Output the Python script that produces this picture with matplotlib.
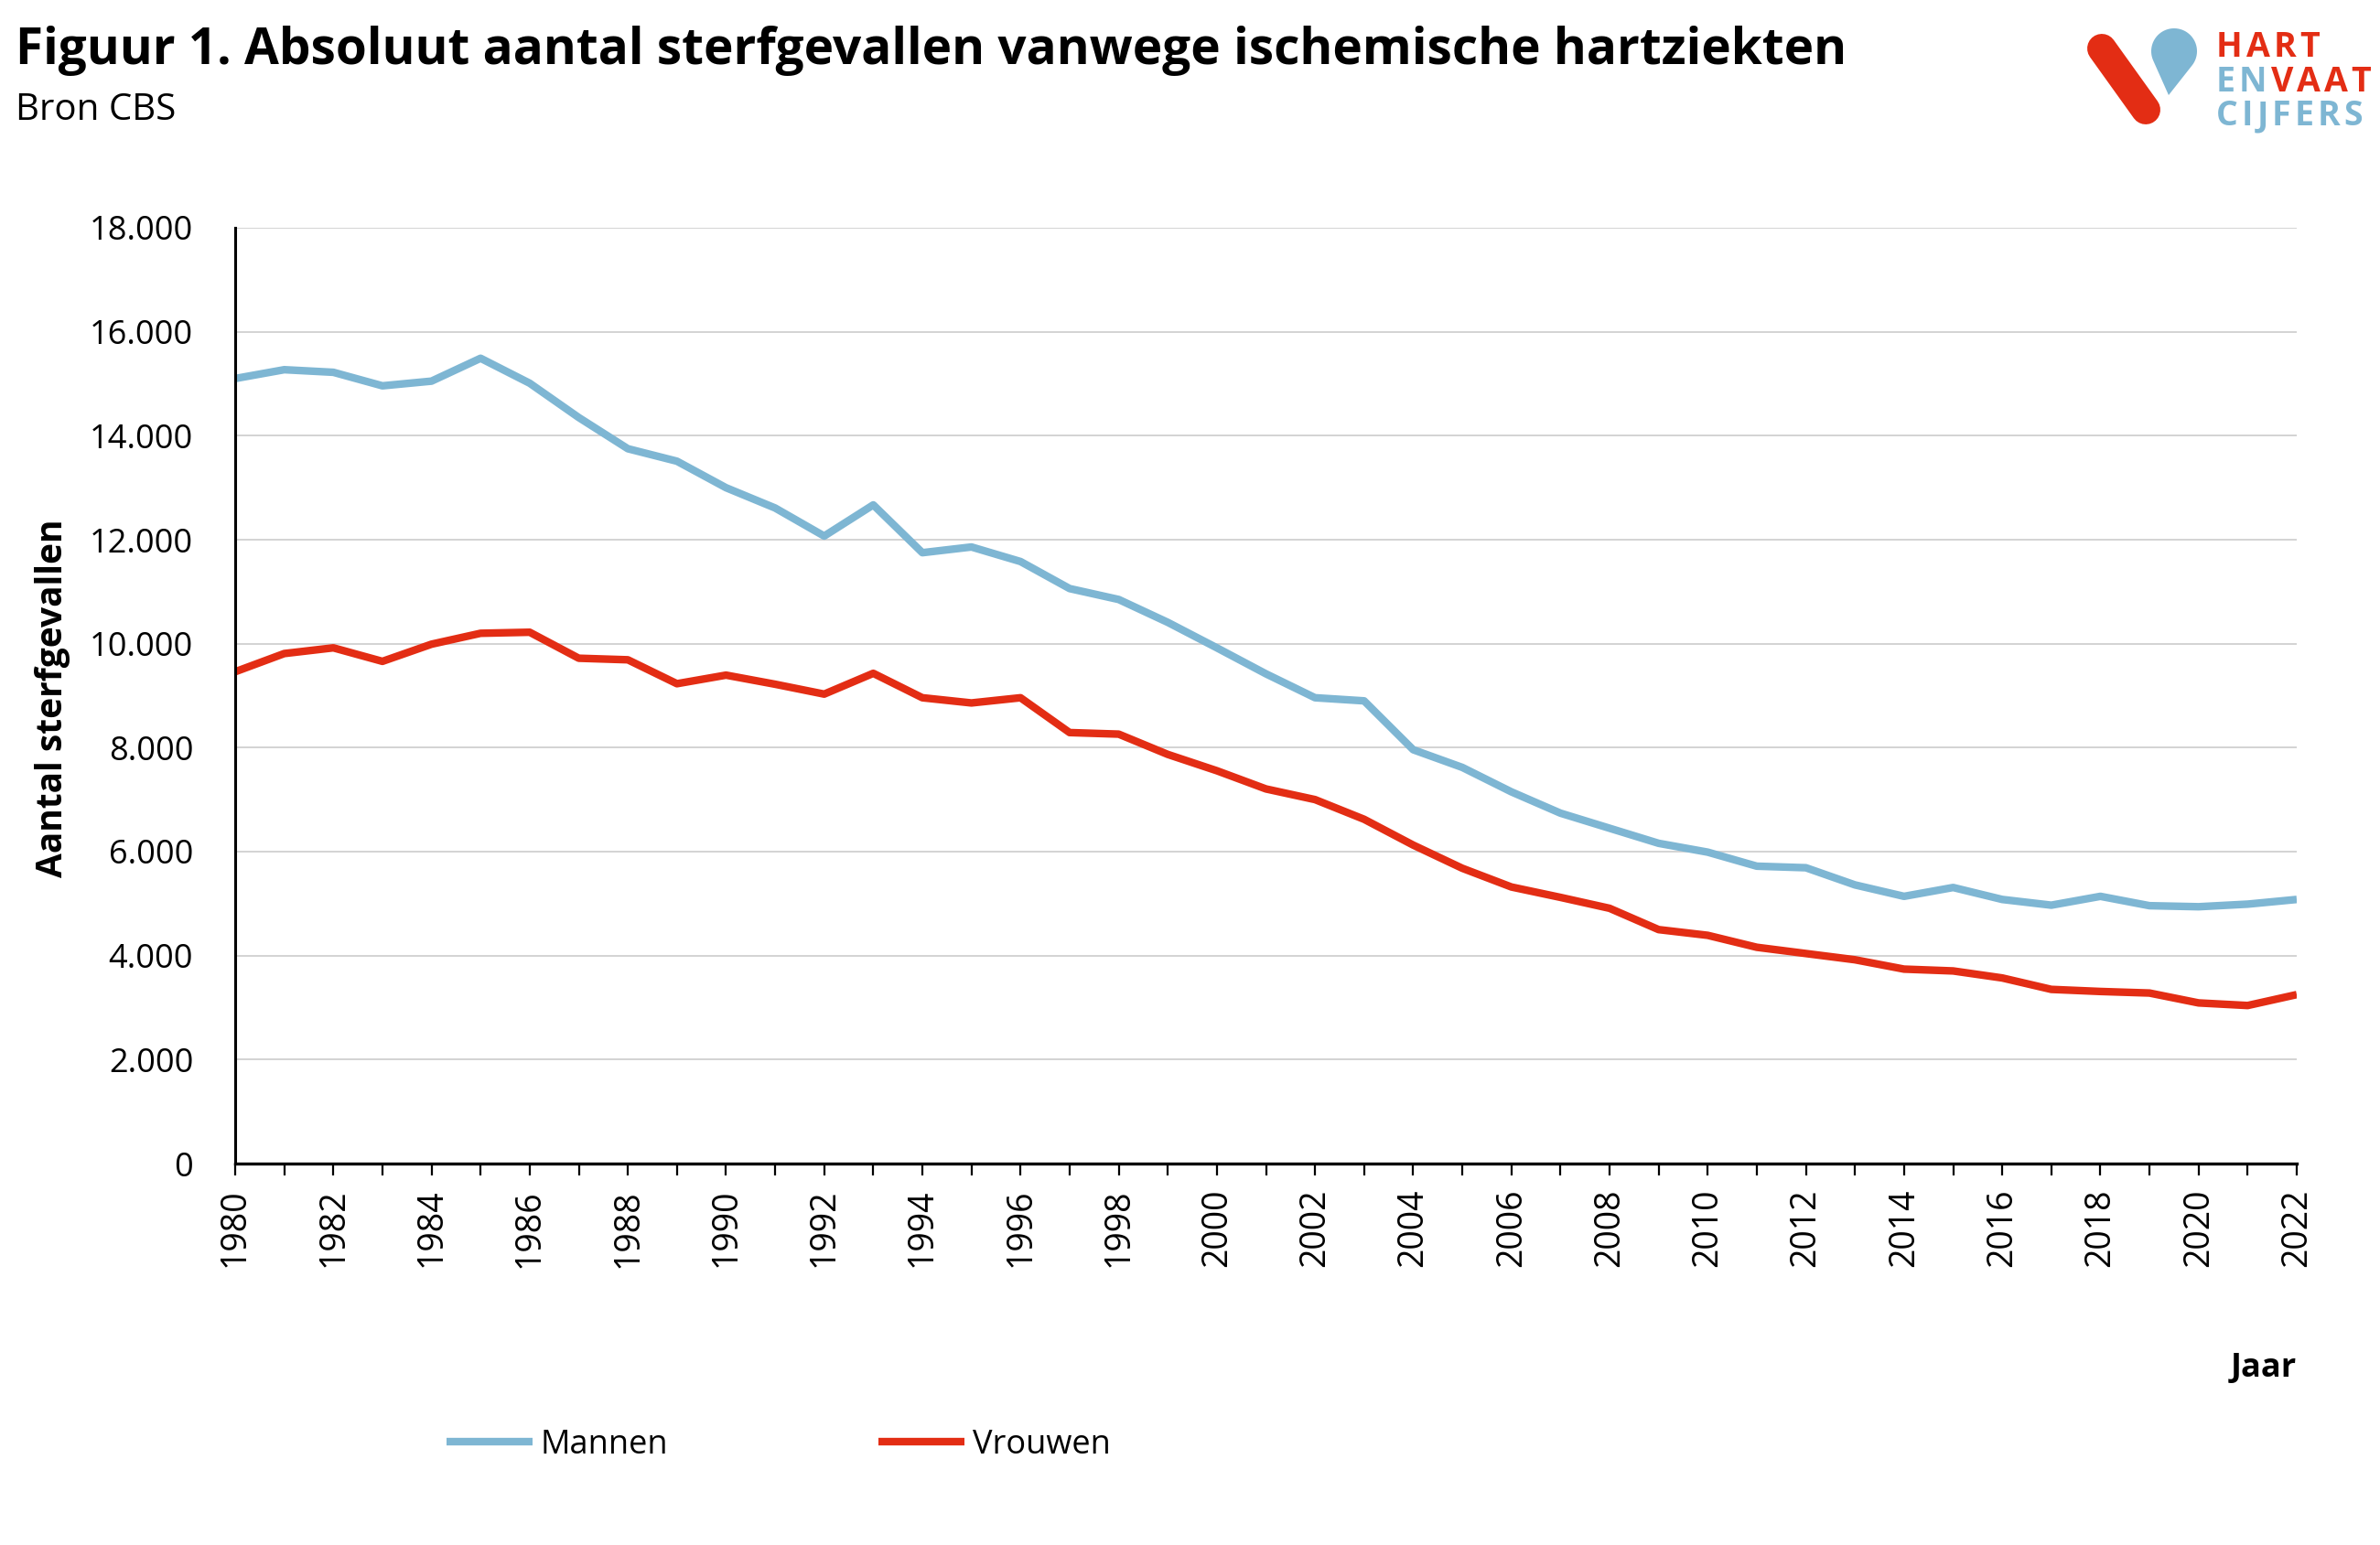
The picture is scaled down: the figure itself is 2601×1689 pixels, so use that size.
import matplotlib.pyplot as plt
import numpy as np
from matplotlib.ticker import FuncFormatter, MultipleLocator
from matplotlib.patches import Polygon
from matplotlib.lines import Line2D

plt.rcParams['font.family'] = ['Open Sans', 'DejaVu Sans']

years = np.arange(1980, 2023)
mannen = [15100, 15270, 15220, 14960, 15050, 15490, 15010, 14350, 13750, 13510,
          13000, 12610, 12070, 12670, 11750, 11860, 11580, 11060, 10850, 10410,
          9920, 9420, 8960, 8900, 7960, 7620, 7150, 6740, 6450, 6160,
          5990, 5720, 5690, 5360, 5140, 5310, 5080, 4970, 5140, 4960,
          4940, 4990, 5080]
vrouwen = [9460, 9810, 9920, 9660, 9990, 10200, 10220, 9720, 9690, 9230,
           9395, 9220, 9030, 9430, 8960, 8860, 8960, 8290, 8260, 7870,
           7556, 7206, 7001, 6622, 6126, 5680, 5320, 5120, 4910, 4500,
           4390, 4160, 4040, 3920, 3740, 3705, 3570, 3350, 3310, 3280,
           3090, 3040, 3250]

blue = '#7EB6D3'
red = '#E32D14'
W, H = 2601, 1689

fig = plt.figure(figsize=(26.01, 16.89), dpi=100)
ax = fig.add_axes([257 / W, 1 - 1272 / H, (2510 - 257) / W, (1272 - 249) / H])

ax.plot(years, mannen, color=blue, lw=6, label='Mannen', solid_capstyle='butt')
ax.plot(years, vrouwen, color=red, lw=6, label='Vrouwen', solid_capstyle='butt')

ax.set_xlim(1980, 2022)
ax.set_ylim(0, 18000)
ax.yaxis.set_major_locator(MultipleLocator(2000))
ax.yaxis.set_major_formatter(FuncFormatter(lambda v, p: f'{int(v):,}'.replace(',', '.')))
ax.xaxis.set_major_locator(MultipleLocator(2))
ax.xaxis.set_minor_locator(MultipleLocator(1))
ax.grid(axis='y', color='#C8C8C8', lw=1.1)
ax.set_axisbelow(True)

for s in ['top', 'right']:
    ax.spines[s].set_visible(False)
ax.spines['left'].set_linewidth(2.2)
ax.spines['bottom'].set_linewidth(2.4)

ax.tick_params(axis='y', length=0, pad=33, labelsize=26)
ax.tick_params(axis='x', which='both', length=9, width=1.6, direction='out')
ax.tick_params(axis='x', which='major', labelsize=27, labelrotation=90, pad=11)

fig.text(17 / W, 1 - 70 / H, 'Figuur 1. Absoluut aantal sterfgevallen vanwege ischemische hartziekten',
         fontsize=39.5, fontweight='bold', ha='left', va='baseline')
fig.text(17 / W, 1 - 131 / H, 'Bron CBS', fontsize=29, ha='left', va='baseline')
fig.text(58 / W, 1 - 763 / H, 'Aantal sterfgevallen', fontsize=28, fontweight='bold',
         rotation=90, ha='center', va='center')
fig.text(2510 / W, 1 - 1496 / H, 'Jaar', fontsize=26, fontweight='bold', ha='right', va='center')

fig.legend(loc='center left', bbox_to_anchor=(488 / W, 1 - 1580 / H), ncol=2, frameon=False,
           fontsize=26, handlelength=2.6, handletextpad=0.25, columnspacing=6.35,
           borderpad=0, borderaxespad=0)

# logo
logo = fig.add_axes([0, 0, 1, 1], zorder=5)
logo.set_xlim(0, W)
logo.set_ylim(H, 0)
logo.axis('off')
logo.add_line(Line2D([2297, 2345], [53, 120], color=red, lw=23, solid_capstyle='round'))
cx, cy, r = 2376, 56, 25
tx, ty = 2370, 104
d = np.hypot(tx - cx, ty - cy)
base = np.arctan2(ty - cy, tx - cx)
a = np.arccos(r / d)
ang = np.linspace(base + a, base - a + 2 * np.pi, 60)
pts = [(cx + r * np.cos(t), cy + r * np.sin(t)) for t in ang] + [(tx, ty)]
logo.add_patch(Polygon(pts, closed=True, color=blue, lw=0))

renderer = fig.canvas.get_renderer()


def spaced(x, y, word, colors, size=27, track=4):
    for ch, c in zip(word, colors):
        t = logo.text(x, y, ch, color=c, fontsize=size, fontweight='bold', va='baseline', ha='left')
        x += t.get_window_extent(renderer).width + track


spaced(2422, 62, 'HART', [red] * 4)
spaced(2422, 100, 'ENVAAT', [blue] * 2 + [red] * 4)
spaced(2422, 137, 'CIJFERS', [blue] * 7)

fig.savefig('out.png', dpi=100)
